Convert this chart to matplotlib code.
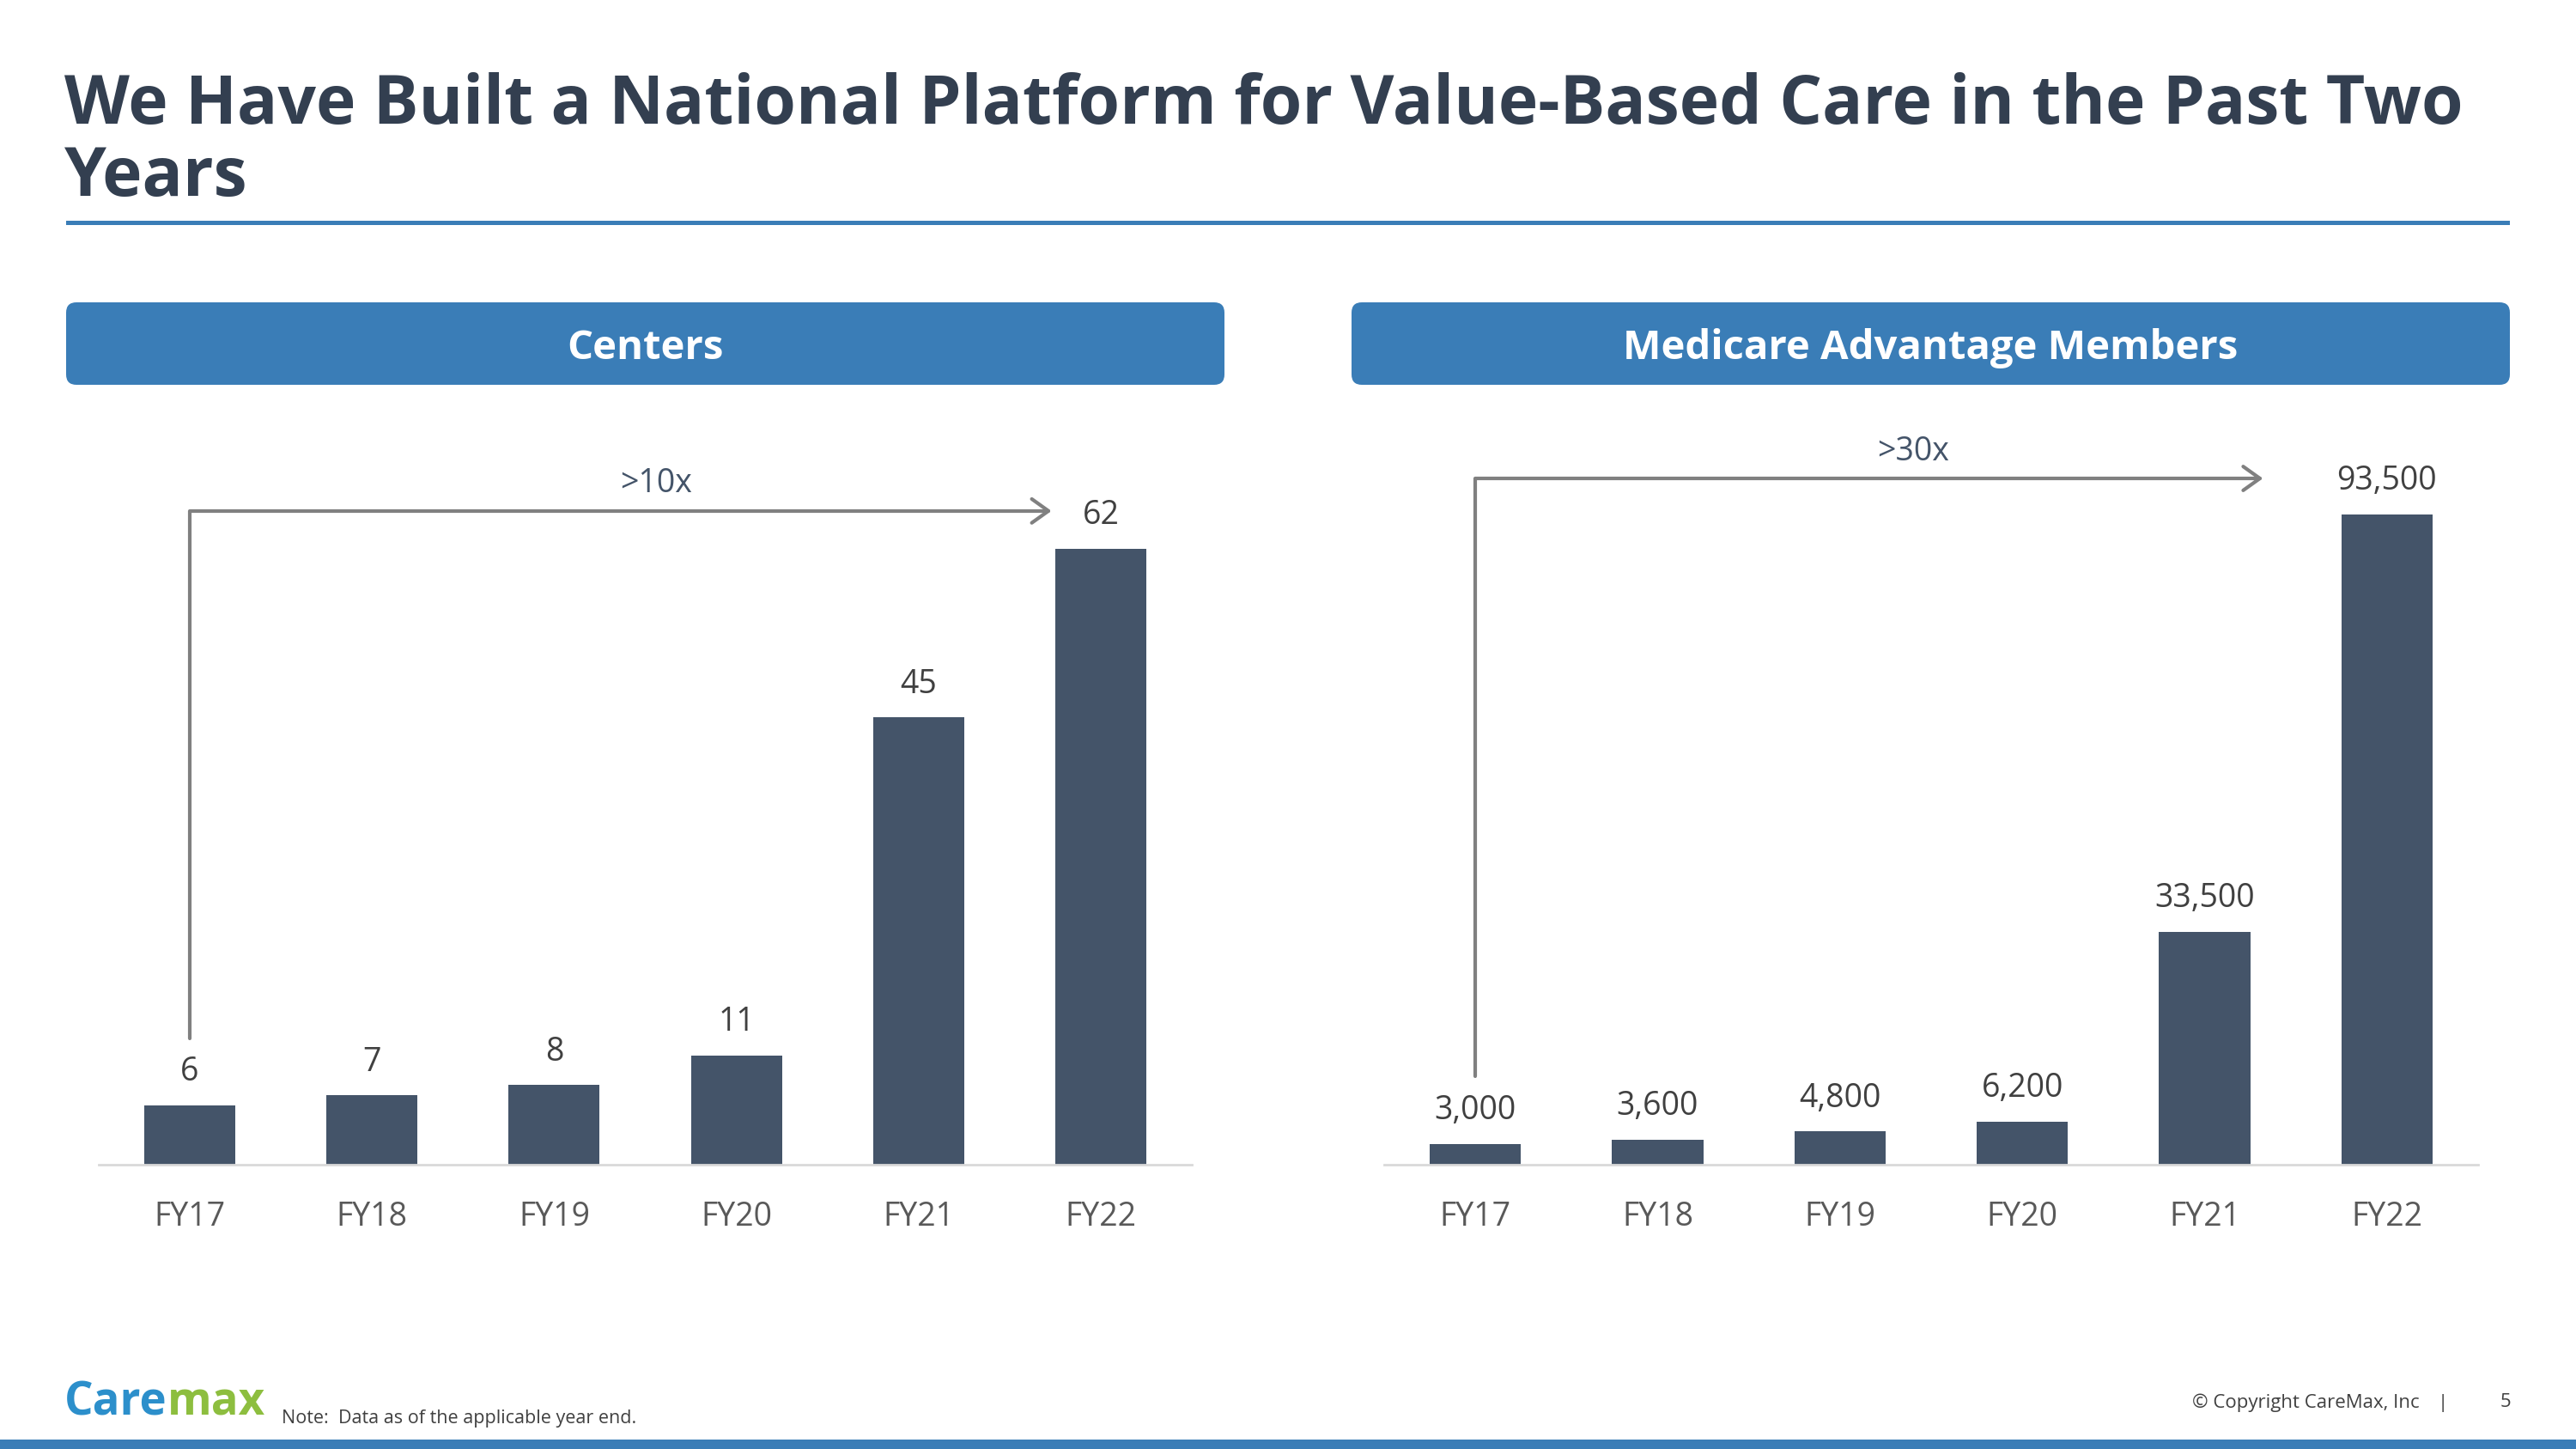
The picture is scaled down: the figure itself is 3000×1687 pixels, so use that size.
import matplotlib
matplotlib.use('Agg')
import matplotlib.pyplot as plt
from matplotlib.patches import FancyBboxPatch, Rectangle

plt.rcParams['font.family'] = ['Open Sans', 'DejaVu Sans']

years = ['FY17', 'FY18', 'FY19', 'FY20', 'FY21', 'FY22']
centers = [6, 7, 8, 11, 45, 62]
members = [3000, 3600, 4800, 6200, 33500, 93500]

title = 'We Have Built a National Platform for Value-Based Care in the Past Two\nYears'
panel_titles = ['Centers', 'Medicare Advantage Members']
growth = ['>10x', '>30x']

BLUE = '#3A7DB7'
BAR = '#445469'
TITLE_C = '#333F50'
TICK_C = '#595959'
LABEL_C = '#404040'
ARROW_C = '#808080'

W, H = 3000, 1687
fig = plt.figure(figsize=(W / 100, H / 100), dpi=100)

# background layer in pixel coordinates
bg = fig.add_axes([0, 0, 1, 1])
bg.set_xlim(0, W)
bg.set_ylim(H, 0)
bg.axis('off')

bg.text(75, 84, title, fontsize=56.5, fontweight='bold', color=TITLE_C,
        va='top', ha='left', linespacing=1.08)
bg.add_patch(Rectangle((77, 257), 2846, 5, color=BLUE, lw=0))

for x0, name in zip([77, 1574], panel_titles):
    bg.add_patch(FancyBboxPatch((x0, 352), 1349, 96,
                                boxstyle='round,pad=0,rounding_size=12',
                                fc=BLUE, ec='none'))
    bg.text(x0 + 1349 / 2, 405, name, fontsize=34, fontweight='bold',
            color='white', ha='center', va='center')

# footer
bg.add_patch(Rectangle((0, 1676), W, 11, color=BLUE, lw=0))
logo = bg.text(75, 1647, 'Care', fontsize=38, fontweight='bold',
               color='#2C8FCB', ha='left', va='baseline')
bg.annotate('max', xy=(1, 0), xycoords=logo, fontsize=38,
            fontweight='bold', color='#8DBE3F', ha='left', va='bottom')
bg.text(328, 1652, 'Note:  Data as of the applicable year end.', fontsize=15.5,
        color='#404040', ha='left', va='center')
bg.text(2818, 1633, '\u00a9 Copyright CareMax, Inc', fontsize=16,
        color=LABEL_C, ha='right', va='center')
bg.text(2845, 1633, '|', fontsize=16, color=LABEL_C, ha='center', va='center')
bg.text(2918, 1633, '5', fontsize=16, color=LABEL_C, ha='center', va='center')


def bar_panel(rect, values, fmt, ymax, arrow_base, arrow_top, arrow_end,
              txt, txt_x):
    ax = fig.add_axes(rect)
    x = list(range(len(values)))
    ax.bar(x, values, width=0.5, color=BAR, zorder=2)
    ax.set_xlim(-0.5, len(values) - 0.5)
    ax.set_ylim(0, ymax)
    ax.set_xticks(x)
    ax.set_xticklabels(years, fontsize=27, color=TICK_C)
    ax.tick_params(axis='x', length=0, pad=30)
    ax.set_yticks([])
    for s in ['top', 'right', 'left']:
        ax.spines[s].set_visible(False)
    ax.spines['bottom'].set_color('#D9D9D9')
    ax.spines['bottom'].set_linewidth(2)
    ax.patch.set_alpha(0)
    for xi, v in zip(x, values):
        ax.annotate(fmt(v), xy=(xi, v), xytext=(0, 14),
                    textcoords='offset points', ha='center', va='bottom',
                    fontsize=27, color=LABEL_C)
    ax.annotate('', xy=(arrow_end, arrow_top), xytext=(x[0], arrow_base),
                arrowprops=dict(arrowstyle='->,head_length=0.7,head_width=0.5',
                                connectionstyle='angle,angleA=90,angleB=0,rad=0',
                                color=ARROW_C, lw=3, shrinkA=0, shrinkB=0,
                                mutation_scale=20))
    ax.annotate(txt, xy=(txt_x, arrow_top), xytext=(0, 9),
                textcoords='offset points', ha='center', va='bottom',
                fontsize=27, color=BAR)
    return ax


bot = 1 - 1356 / H
top = 1 - 500 / H
bar_panel([115 / W, bot, 1273 / W, top - bot], centers, lambda v: f'{v}',
          74, 12.7, 65.8, 4.73, growth[0], 2.56)
bar_panel([1612 / W, bot, 1274 / W, top - bot], members, lambda v: f'{v:,}',
          105700, 12700, 98660, 4.32, growth[1], 2.40)

fig.savefig('out.png', dpi=100)
